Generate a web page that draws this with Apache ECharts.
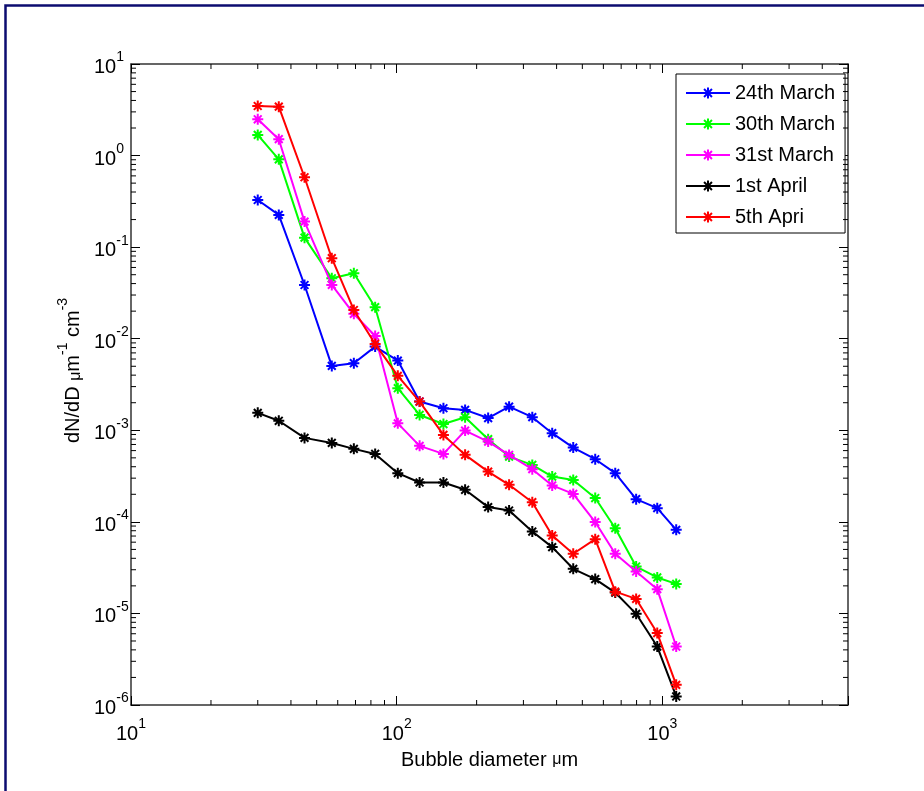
<!DOCTYPE html>
<html><head><meta charset="utf-8">
<script src="https://cdn.jsdelivr.net/npm/echarts@6/dist/echarts.min.js"></script>
<style>html,body{margin:0;padding:0;background:#fff}#c{width:924px;height:791px}</style>
</head><body><div id="c"></div><script>
// ---- data ----
const diameters = [30, 36, 45, 57, 69, 83, 101, 122, 150, 181, 221, 265, 324, 385, 462, 559, 665, 797, 957, 1128];
const march24 = [0.327, 0.225, 0.0386, 0.00505, 0.0054, 0.0082, 0.00577, 0.00206, 0.00174, 0.00167, 0.00136, 0.00181, 0.00139, 0.00093, 0.000647, 0.000483, 0.00034, 0.000177, 0.000141, 0.0000818];
const march30 = [1.68, 0.91, 0.127, 0.0457, 0.0519, 0.0221, 0.00288, 0.00147, 0.00117, 0.00139, 0.0008, 0.000516, 0.000419, 0.000312, 0.000287, 0.000182, 0.0000853, 0.0000325, 0.0000247, 0.000021];
const march31 = [2.49, 1.51, 0.19, 0.0387, 0.0187, 0.0107, 0.00119, 0.000676, 0.000552, 0.000993, 0.000753, 0.000538, 0.000376, 0.00025, 0.000202, 0.0000995, 0.0000448, 0.0000287, 0.0000184, 0.00000435];
const april1 = [0.00155, 0.00127, 0.000826, 0.000728, 0.000627, 0.000552, 0.00034, 0.000269, 0.000269, 0.000224, 0.000145, 0.000133, 0.0000784, 0.000053, 0.0000307, 0.0000237, 0.0000169, 0.0000099, 0.00000435, 0.00000124];
const april5 = [3.48, 3.42, 0.58, 0.0757, 0.0206, 0.00877, 0.00393, 0.00206, 0.00089, 0.000539, 0.000354, 0.000254, 0.000164, 0.0000708, 0.0000448, 0.0000647, 0.0000173, 0.0000144, 0.0000061, 0.00000166];
const seriesNames = ['24th March', '30th March', '31st March', '1st April', '5th Apri'];
const seriesColors = ['#0000ff', '#00ff00', '#ff00ff', '#000000', '#ff0000'];
const seriesValues = [march24, march30, march31, april1, april5];
// axis ranges and tick values
const X_MIN = 10, X_MAX = 5000;
const Y_MIN = 1e-6, Y_MAX = 10;
const minorMantissas = [2, 3, 4, 5, 6, 7, 8, 9];
const xDecades = [10, 100, 1000];
const yDecades = [1e-6, 1e-5, 1e-4, 1e-3, 1e-2, 1e-1, 1];

const FONT = "'Liberation Sans', Arial, Helvetica, sans-serif";
const STAR = 'path://M0,-10L0,10M-10,0L10,0M-7.07,-7.07L7.07,7.07M-7.07,7.07L7.07,-7.07';

function powLabel(v) {
  const n = Math.log10(v), r = Math.round(n);
  if (Math.abs(n - r) > 1e-6) return '';
  return '{b|10}{s|' + r + '}';
}
const labelRich = {
  b: { fontSize: 20, fontFamily: FONT, color: '#000', lineHeight: 27, verticalAlign: 'bottom' },
  s: { fontSize: 14, fontFamily: FONT, color: '#000', lineHeight: 12, verticalAlign: 'top' }
};

const minorData = [];
xDecades.forEach(d => minorMantissas.forEach(m => { const v = d * m; if (v < X_MAX) minorData.push([v, Y_MIN, 0]); }));
yDecades.forEach(d => minorMantissas.forEach(m => { minorData.push([X_MIN, d * m, 1]); }));

const TICK_MINOR = 5;
function seg(x1, y1, x2, y2) { return { type: 'line', shape: { x1, y1, x2, y2 }, style: { stroke: '#000', lineWidth: 1 } }; }

const axisCommon = {
  type: 'log', logBase: 10,
  axisLine: { show: true, lineStyle: { color: '#333', width: 1.5 } },
  axisTick: { show: true, inside: true, length: 9, lineStyle: { color: '#000', width: 1 } },
  splitLine: { show: false }, minorTick: { show: false }, minorSplitLine: { show: false }
};

const option = {
  animation: false,
  backgroundColor: '#fff',
  grid: { left: 131, top: 64, width: 717, height: 641, containLabel: false, outerBoundsMode: 'none' },
  graphic: [{ type: 'rect', shape: { x: 5.5, y: 5.5, width: 960, height: 840 }, style: { fill: 'none', stroke: '#0c0c70', lineWidth: 2.5 }, silent: true, z: 100 }],
  legend: {
    data: seriesNames, orient: 'vertical', left: 676, top: 74,
    padding: [9, 10, 6, 9], itemGap: 11, itemWidth: 44, itemHeight: 14,
    borderColor: '#000', borderWidth: 1, backgroundColor: '#fff', borderRadius: 0,
    textStyle: { fontFamily: FONT, fontSize: 20, color: '#000', lineHeight: 20 },
    itemStyle: { borderWidth: 2 }
  },
  xAxis: [
    Object.assign({}, axisCommon, {
      position: 'bottom', min: X_MIN, max: X_MAX,
      axisLabel: { show: true, formatter: powLabel, rich: labelRich, margin: 12, showMinLabel: true, showMaxLabel: true, hideOverlap: false },
      name: '{t|Bubble diameter }{m|μ}{t|m}', nameLocation: 'middle', nameGap: 45,
      nameTextStyle: { rich: { t: { fontSize: 20, fontFamily: FONT, color: '#000' }, m: { fontSize: 16, fontFamily: FONT, color: '#000' } } }
    }),
    Object.assign({}, axisCommon, { position: 'top', min: X_MIN, max: X_MAX, axisLabel: { show: false } })
  ],
  yAxis: [
    Object.assign({}, axisCommon, {
      position: 'left', min: Y_MIN, max: Y_MAX,
      axisLabel: { show: true, formatter: powLabel, rich: labelRich, margin: 37, align: 'left', showMinLabel: true, showMaxLabel: true, hideOverlap: false },
      name: '{t|dN/dD }{m|μ}{t|m}{s|-1}{t| cm}{s|-3}', nameLocation: 'middle', nameGap: 42, nameRotate: 90,
      nameTextStyle: {
        padding: [0, 0, 0, 28],
        rich: {
          t: { fontSize: 20, fontFamily: FONT, color: '#000', lineHeight: 27, verticalAlign: 'bottom' },
          m: { fontSize: 16, fontFamily: FONT, color: '#000', lineHeight: 27, verticalAlign: 'bottom' },
          s: { fontSize: 14, fontFamily: FONT, color: '#000', lineHeight: 12, verticalAlign: 'top' }
        }
      }
    }),
    Object.assign({}, axisCommon, { position: 'right', min: Y_MIN, max: Y_MAX, axisLabel: { show: false } })
  ],
  series: seriesNames.map((name, i) => ({
    name, type: 'line', xAxisIndex: 0, yAxisIndex: 0,
    data: diameters.map((d, j) => [d, seriesValues[i][j]]),
    symbol: STAR, symbolSize: 11, showAllSymbol: true,
    lineStyle: { color: seriesColors[i], width: 2 },
    itemStyle: { color: seriesColors[i], borderColor: seriesColors[i], borderWidth: 2 },
    emphasis: { disabled: true }, z: 2 + i
  })).concat([{
    type: 'custom', name: 'minorTicks', xAxisIndex: 0, yAxisIndex: 0, silent: true, clip: false, z: 10,
    data: minorData, encode: { x: 0, y: 1 },
    renderItem: function (params, api) {
      const kind = api.value(2);
      if (kind === 0) {
        const v = api.value(0);
        const b = api.coord([v, Y_MIN]), t = api.coord([v, Y_MAX]);
        return { type: 'group', children: [seg(b[0], b[1], b[0], b[1] - TICK_MINOR), seg(t[0], t[1], t[0], t[1] + TICK_MINOR)] };
      } else {
        const v = api.value(1);
        const l = api.coord([X_MIN, v]), r = api.coord([X_MAX, v]);
        return { type: 'group', children: [seg(l[0], l[1], l[0] + TICK_MINOR, l[1]), seg(r[0], r[1], r[0] - TICK_MINOR, r[1])] };
      }
    }
  }])
};
const chart = echarts.init(document.getElementById('c'), null, { renderer: 'canvas' });
chart.setOption(option);
</script></body></html>
